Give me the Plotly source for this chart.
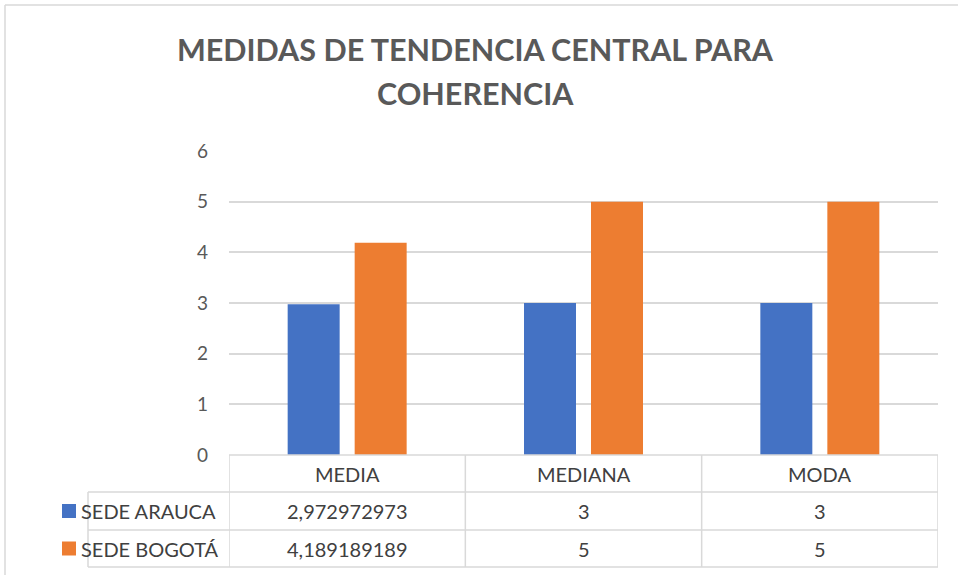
import plotly.graph_objects as go

# ---- data ----
categories = ["MEDIA", "MEDIANA", "MODA"]
series_names = ["SEDE ARAUCA", "SEDE BOGOTÁ"]
arauca = [2.972972973, 3, 3]
bogota = [4.189189189, 5, 5]
arauca_labels = ["2,972972973", "3", "3"]
bogota_labels = ["4,189189189", "5", "5"]
colors = ["#4472C4", "#ED7D31"]
title_lines = ["MEDIDAS DE TENDENCIA CENTRAL PARA", "COHERENCIA"]

W, H = 958, 575
L, R, T, B = 229, 20, 151, 120
pw, ph = W - L - R, H - T - B

def px(X):
    return (X - L) / pw

def py(Y):
    return (H - B - Y) / ph

FONT = "Lato"
GRID = "#d9d9d9"
TXT = "#595959"

fig = go.Figure()
for name, vals, col in zip(series_names, [arauca, bogota], colors):
    fig.add_trace(go.Bar(x=categories, y=vals, name=name, marker_color=col,
                         marker_line_width=0, showlegend=False))

shapes = []
# outer chart border (left, top)
shapes.append(dict(type="line", xref="paper", yref="paper", x0=px(5), x1=px(W + 5),
                   y0=py(5), y1=py(5), line=dict(color=GRID, width=1.5)))
shapes.append(dict(type="line", xref="paper", yref="paper", x0=px(5), x1=px(5),
                   y0=py(5), y1=py(H + 5), line=dict(color=GRID, width=1.5)))

row_y = [455, 492, 530, 567]
for i, Y in enumerate(row_y):
    x0 = px(229) if i == 0 else px(88)
    shapes.append(dict(type="line", xref="paper", yref="paper", x0=x0, x1=1,
                       y0=py(Y), y1=py(Y), line=dict(color=GRID, width=1.5)))
for xv in [-0.5, 0.5, 1.5, 2.5]:
    shapes.append(dict(type="line", xref="x", yref="paper", x0=xv, x1=xv,
                       y0=py(455), y1=py(567), line=dict(color=GRID, width=1.5)))
shapes.append(dict(type="line", xref="paper", yref="paper", x0=px(88), x1=px(88),
                   y0=py(492), y1=py(567), line=dict(color=GRID, width=1.5)))
for i, col in enumerate(colors):
    yc = (row_y[i + 1] + row_y[i + 2]) / 2
    shapes.append(dict(type="rect", xref="paper", yref="paper", x0=px(62), x1=px(76),
                       y0=py(yc + 7), y1=py(yc - 7), fillcolor=col, line_width=0))

ann = []
tfont = dict(family=FONT, size=20, color="#404040")
hy = py((row_y[0] + row_y[1]) / 2)
for c in categories:
    ann.append(dict(x=c, y=hy, xref="x", yref="paper", text=c, showarrow=False,
                    font=tfont, xanchor="center", yanchor="middle"))
for i, (name, labels) in enumerate(zip(series_names, [arauca_labels, bogota_labels])):
    yc = py((row_y[i + 1] + row_y[i + 2]) / 2)
    ann.append(dict(x=px(79), y=yc, xref="paper", yref="paper", text=name, showarrow=False,
                    font=tfont, xanchor="left", yanchor="middle"))
    for c, lab in zip(categories, labels):
        ann.append(dict(x=c, y=yc, xref="x", yref="paper", text=lab, showarrow=False,
                        font=tfont, xanchor="center", yanchor="middle"))
# title lines
for line, yc in zip(title_lines, [49, 93]):
    ann.append(dict(x=px(475), y=py(yc), xref="paper", yref="paper", text=line, showarrow=False,
                    font=dict(family=FONT, size=30.5, color=TXT, weight="bold"),
                    xanchor="center", yanchor="middle"))

fig.update_layout(
    width=W, height=H,
    margin=dict(l=L, r=R, t=T, b=B),
    paper_bgcolor="white", plot_bgcolor="white",
    barmode="group", bargap=0.433, bargroupgap=0.224,
    xaxis=dict(range=[-0.5, 2.5], showticklabels=False, showgrid=False, showline=False,
               zeroline=False, ticks=""),
    yaxis=dict(range=[0, 6], dtick=1, tick0=0, showgrid=True, gridcolor=GRID, gridwidth=1.5,
               zeroline=False, showline=False, ticks="", ticklabelstandoff=20,
               tickfont=dict(family=FONT, size=19, color=TXT)),
    shapes=shapes, annotations=ann,
)
fig.write_html("out.html", config={"displayModeBar": False},
               post_script="document.body.style.margin='0';document.body.style.overflow='hidden';")
